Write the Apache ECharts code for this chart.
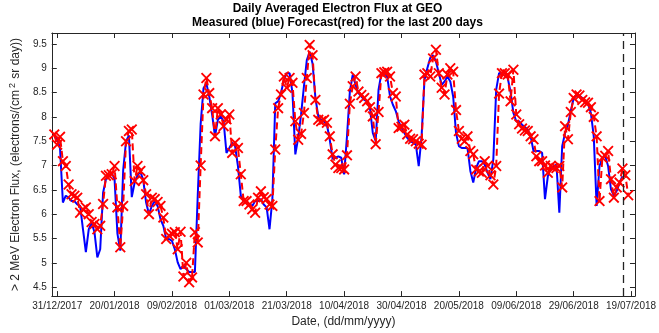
<!DOCTYPE html>
<html><head><meta charset="utf-8">
<script src="https://cdn.jsdelivr.net/npm/echarts@6/dist/echarts.min.js"></script>
<style>html,body{margin:0;padding:0;background:#fff}#c{width:659px;height:333px}</style>
</head><body><div id="c"></div>
<script>
// Day offsets are counted from 31/12/2017 (day 0)
const firstDay = -1; // 30/12/2017
const measured = [
7.59,7.55,7.35,6.24,6.38,6.34,6.27,6.27,6.2,6.17,
5.69,5.22,5.69,5.83,5.63,5.11,5.28,6.44,6.72,6.79,
6.85,6.72,5.6,5.25,6.9,7.5,7.62,6.35,6.65,6.8,
6.87,6.7,6.24,6.0,6.17,6.27,6.17,5.9,5.76,5.49,
5.49,5.45,5.28,5.01,4.87,4.94,4.87,4.81,4.81,4.81,
6.4,7.85,8.59,8.69,8.42,8.05,7.6,7.94,8.01,7.91,
7.26,7.36,7.47,7.4,6.99,6.38,6.27,6.24,6.2,6.17,
6.27,6.27,6.31,6.2,6.14,5.69,6.31,8.28,8.32,8.49,
8.76,8.9,8.9,8.5,7.23,7.57,8.05,8.63,9.17,9.34,
9.1,8.39,8.01,7.94,7.91,7.84,7.53,7.13,7.16,7.19,
7.16,6.82,7.6,8.52,8.87,8.66,8.49,8.42,8.35,8.32,
8.18,7.67,7.5,8.56,8.9,8.91,8.83,8.42,8.25,8.12,
7.91,7.77,7.67,7.57,7.5,7.47,7.43,6.99,7.6,8.76,
9.0,9.21,9.27,9.14,8.9,8.66,8.73,8.83,8.73,8.42,
7.67,7.4,7.36,7.36,7.36,6.89,6.65,6.95,7.09,7.09,
7.02,6.85,6.72,7.13,8.56,8.9,8.91,8.91,8.8,8.52,
8.08,7.91,7.91,7.84,7.79,7.74,7.6,7.3,7.3,7.3,
7.26,6.31,6.78,6.95,6.99,7.02,6.03,7.4,7.67,7.84,
8.12,8.39,8.44,8.44,8.39,8.32,8.27,8.08,7.6,6.17,
6.99,7.16,7.19,6.99,6.51,6.38,6.48,6.65,6.78
];
const forecast = [
7.64,7.43,7.59,7.09,6.99,6.61,6.41,6.38,6.34,6.03,
6.1,6.14,6.0,5.84,5.8,5.69,5.76,6.21,6.79,6.8,
6.82,6.99,6.14,5.32,6.17,7.5,7.71,7.74,6.68,6.99,
6.89,6.7,6.41,6.0,6.34,6.31,6.25,6.17,5.93,5.49,
5.56,5.6,5.63,5.28,5.64,4.72,5.0,4.6,4.7,5.63,
5.42,7.0,8.46,8.8,8.49,8.18,7.6,8.18,8.05,7.81,
7.95,8.05,7.26,7.47,7.36,6.82,6.27,6.27,6.2,6.1,
6.03,6.34,6.47,6.35,6.31,6.2,6.17,7.33,8.18,8.46,
8.83,8.6,8.8,8.7,7.91,7.53,7.65,8.08,8.8,9.48,
9.27,8.35,7.94,7.91,7.94,7.88,7.6,7.23,7.02,6.95,
6.95,6.92,7.21,8.27,8.63,8.83,8.52,8.45,8.39,8.32,
8.2,8.01,7.44,8.1,8.9,8.92,8.93,8.83,8.49,8.42,
7.77,7.8,7.84,7.64,7.55,7.54,7.5,7.45,7.43,8.87,
8.9,8.83,9.2,9.38,8.9,8.6,8.46,8.87,9.0,8.93,
8.14,7.71,7.55,7.5,7.6,7.3,7.23,6.92,6.88,6.85,
7.09,6.99,6.8,6.61,6.99,8.48,8.9,8.9,8.87,8.32,
8.97,8.05,7.85,7.76,7.72,7.71,7.6,7.54,7.19,7.09,
7.09,7.0,6.85,6.99,6.95,6.95,6.99,6.55,7.81,7.54,
8.1,8.39,8.46,8.44,8.35,8.3,8.29,8.2,8.0,7.6,
6.27,7.16,7.2,7.3,6.72,6.34,6.55,6.65,6.94,6.8,
6.39
];
const tickDays = [0,20,40,60,80,100,120,140,160,180,200];
const tickLabels = ['31/12/2017','20/01/2018','09/02/2018','01/03/2018','21/03/2018','10/04/2018','30/04/2018','20/05/2018','09/06/2018','29/06/2018','19/07/2018'];
const yTicks = [4.5,5,5.5,6,6.5,7,7.5,8,8.5,9,9.5];
const yTickLabels = ['4.5','5','5.5','6','6.5','7','7.5','8','8.5','9','9.5'];
const lastMeasuredDay = [197.2];

const FONT = 'Liberation Sans, Arial, Helvetica, sans-serif';
const AX = '#262626';
const measuredData = measured.map((v,i)=>[firstDay+i, v]);
const forecastData = forecast.map((v,i)=>[firstDay+i, v]);
const X_SYM = 'path://M0,1.2L1.2,0L5,3.8L8.8,0L10,1.2L6.2,5L10,8.8L8.8,10L5,6.2L1.2,10L0,8.8L3.8,5Z';

function xAx(pos, labels){
  return {
    type:'value', position:pos, min:-1.87, max:201.36,
    axisLine:{show:true, onZero:false, lineStyle:{color:AX,width:1}},
    axisTick:{show:true, inside:true, length:5, customValues:tickDays, lineStyle:{color:AX,width:1}},
    axisLabel:{show:labels, customValues:tickDays, margin:5, fontSize:10, color:AX, fontFamily:FONT,
      formatter:v=>tickLabels[tickDays.indexOf(Math.round(v))]},
    splitLine:{show:false},
    name: labels ? 'Date, (dd/mm/yyyy)' : '',
    nameLocation:'middle', nameGap:17,
    nameTextStyle:{fontSize:12, color:AX, fontFamily:FONT}
  };
}
function yAx(pos, labels){
  return {
    type:'value', position:pos, min:4.316, max:9.725,
    axisLine:{show:true, onZero:false, lineStyle:{color:AX,width:1}},
    axisTick:{show:true, inside:true, length:5, customValues:yTicks, lineStyle:{color:AX,width:1}},
    axisLabel:{show:labels, customValues:yTicks, margin:5, fontSize:10, color:AX, fontFamily:FONT,
      formatter:v=>yTickLabels[yTicks.indexOf(v)] ?? String(v)},
    splitLine:{show:false},
    name: labels ? '> 2 MeV Electron Flux, (electrons/(cm{sup|2} sr day))' : '',
    nameLocation:'middle', nameGap:20, nameRotate:90,
    nameTextStyle:{fontSize:12, color:AX, fontFamily:FONT,
      rich:{sup:{fontSize:9, color:AX, fontFamily:FONT, padding:[0,1,7,2]}}}
  };
}

const chart = echarts.init(document.getElementById('c'), null, {renderer:'canvas'});
chart.setOption({
  animation:false,
  backgroundColor:'#fff',
  grid:{left:38, right:22, top:33, bottom:36, containLabel:false},
  graphic:[{
    type:'text', x:337.5, y:2, silent:true,
    style:{text:'Daily Averaged Electron Flux at GEO\nMeasured (blue) Forecast(red) for the last 200 days',
      textAlign:'center', textVerticalAlign:'top', fontSize:12, fontWeight:'bold', lineHeight:13.5,
      fontFamily:FONT, fill:'#000'}
  }],
  xAxis:[xAx('bottom', true), xAx('top', false)],
  yAxis:[yAx('left', true), yAx('right', false)],
  series:[
    {type:'line', name:'Measured', data:measuredData, xAxisIndex:0, yAxisIndex:0,
     showSymbol:false, lineStyle:{color:'#0000ff', width:2}, z:2,
     markLine:{silent:true, symbol:'none', label:{show:false}, animation:false,
       lineStyle:{color:'#222', width:1.3, type:[8,5]},
       data:lastMeasuredDay.map(d=>({xAxis:d}))}},
    {type:'line', name:'Forecast', data:forecastData, xAxisIndex:0, yAxisIndex:0,
     showSymbol:true, symbol:X_SYM, symbolSize:11,
     itemStyle:{color:'#ff0000', borderWidth:0},
     lineStyle:{color:'#ff0000', width:2, type:[7,4]}, z:3}
  ]
});
</script>
</body></html>
